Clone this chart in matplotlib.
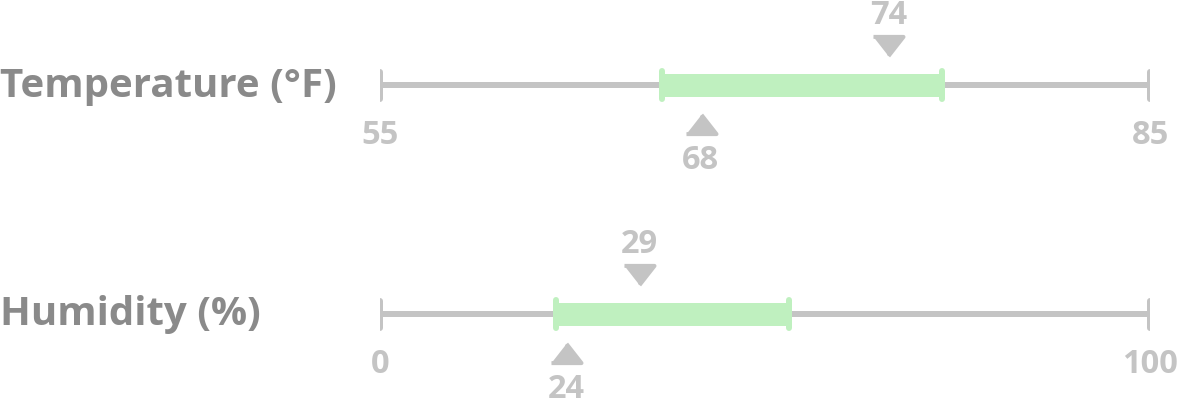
import matplotlib
matplotlib.use("Agg")
import matplotlib.pyplot as plt
from matplotlib.markers import MarkerStyle
from matplotlib.transforms import blended_transform_factory

# ---- data ----
gauges = ["Temperature (°F)", "Humidity (%)"]
range_min = [55, 0]
range_max = [85, 100]
band_low = [66.0, 22.8]
band_high = [76.9, 53.1]
top_marker = [74.8, 33.7]
top_label = ["74", "29"]
bottom_marker = [67.5, 24.2]
bottom_label = ["68", "24"]

# ---- style ----
W, H, DPI = 1180, 401, 100
GRAY = "#c4c4c4"
LABEL_GRAY = "#8a8a8a"
GREEN = "#bff0bf"
FONT = "Open Sans"
line_y = [85, 314]  # pixel rows of each gauge line
px = 72.0 / DPI     # points per pixel

fig = plt.figure(figsize=(W / DPI, H / DPI), dpi=DPI)
fig.patch.set_facecolor("white")

tri_down = MarkerStyle([(-1, 0.64), (1, 0.64), (0, -0.64)], joinstyle="round")
tri_up = MarkerStyle([(-1, -0.64), (1, -0.64), (0, 0.64)], joinstyle="round")

for i, name in enumerate(gauges):
    ax = fig.add_axes([380 / W, 0, 770 / W, 1])
    ax.set_xlim(range_min[i], range_max[i])
    ax.set_ylim(H, 0)
    ax.axis("off")
    y = line_y[i]

    # base line
    ax.plot([range_min[i], range_max[i]], [y, y], color=GRAY, lw=6 * px,
            solid_capstyle="butt", zorder=1)
    # end caps
    for v in (range_min[i], range_max[i]):
        ax.plot([v, v], [y - 13.5, y + 13.5], color=GRAY, lw=6 * px,
                solid_capstyle="round", zorder=1)
    # green band
    ax.plot([band_low[i], band_high[i]], [y, y], color=GREEN, lw=23 * px,
            solid_capstyle="butt", zorder=2)
    for v in (band_low[i], band_high[i]):
        ax.plot([v, v], [y - 14, y + 14], color=GREEN, lw=6 * px,
                solid_capstyle="round", zorder=3)

    # markers
    ax.plot([top_marker[i]], [y - 39.5], marker=tri_down, ms=30 * px,
            color=GRAY, mec=GRAY, mew=4 * px, ls="none", zorder=4)
    ax.plot([bottom_marker[i]], [y + 38.5], marker=tri_up, ms=30 * px,
            color=GRAY, mec=GRAY, mew=4 * px, ls="none", zorder=4)

    num_kw = dict(color=GRAY, fontsize=23.5, fontweight="bold", family=FONT,
                  ha="center", va="baseline")
    ax.text(top_marker[i], y - 61, top_label[i], **num_kw)
    ax.text(bottom_marker[i], y + 84, bottom_label[i], **num_kw)
    ax.text(range_min[i], y + 59, str(range_min[i]), **num_kw)
    ax.text(range_max[i], y + 59, str(range_max[i]), **num_kw)

    tr = blended_transform_factory(fig.transFigure, ax.transData)
    ax.text(0.0, y + 11.5, name, transform=tr, color=LABEL_GRAY, fontsize=29,
            fontweight="bold", family=FONT, ha="left", va="baseline")

fig.savefig("out.png", dpi=DPI, facecolor="white")
